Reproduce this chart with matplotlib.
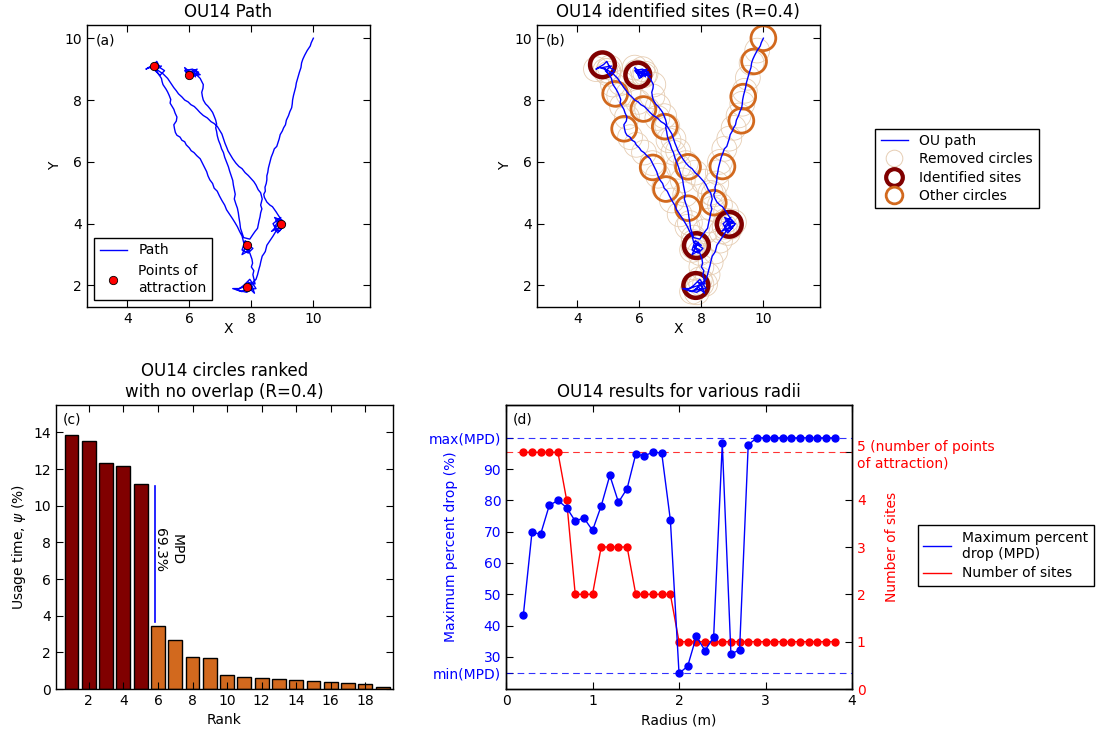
import matplotlib.pyplot as plt
import matplotlib.patches as patches
from matplotlib.lines import Line2D

# OU path, hand-traced waypoints (x, y)
ou_path = [
    (10.0, 10.0), (9.93, 9.85), (9.9, 9.75), (9.8, 9.6), (9.72, 9.45), (9.66, 9.32),
    (9.62, 9.2), (9.6, 9.05), (9.55, 8.9), (9.5, 8.72), (9.45, 8.55), (9.43, 8.42),
    (9.4, 8.3), (9.36, 8.15), (9.33, 8.0), (9.32, 7.88), (9.3, 7.75), (9.24, 7.62),
    (9.2, 7.5), (9.13, 7.35), (9.1, 7.2), (9.04, 7.1), (9.0, 7.0), (8.93, 6.88),
    (8.9, 6.75), (8.86, 6.62), (8.82, 6.5), (8.74, 6.42), (8.7, 6.3), (8.64, 6.15),
    (8.6, 6.0), (8.57, 5.9), (8.55, 5.8), (8.53, 5.66), (8.5, 5.55), (8.5, 5.42),
    (8.48, 5.3), (8.44, 5.18), (8.45, 5.05), (8.4, 4.95), (8.42, 4.85), (8.5, 4.7),
    (8.6, 4.6), (8.68, 4.55), (8.75, 4.45), (8.8, 4.38), (8.85, 4.3), (8.95, 4.15),
    (9.05, 4.05), (8.85, 3.95), (9.0, 3.85), (8.8, 4.1), (9.1, 4.0), (8.9, 3.75),
    (8.75, 3.9), (8.95, 4.2), (8.7, 4.0), (8.85, 3.7), (9.05, 3.95), (8.8, 3.8),
    (8.95, 3.9), (8.75, 4.2), (9.0, 4.1), (8.65, 3.75), (8.85, 3.85), (8.7, 3.6),
    (8.6, 3.45), (8.55, 3.38), (8.5, 3.3), (8.45, 3.1), (8.4, 3.02), (8.35, 2.95),
    (8.3, 2.75), (8.28, 2.65), (8.25, 2.55), (8.2, 2.35), (8.15, 2.2), (8.05, 2.1),
    (7.9, 2.0), (7.6, 1.9), (7.4, 1.9), (7.7, 1.8), (7.9, 1.95), (8.1, 1.75),
    (8.0, 2.05), (7.8, 1.85), (8.15, 1.9), (7.95, 2.2), (7.75, 2.0), (7.55, 1.85),
    (7.85, 1.78), (8.05, 1.9), (7.9, 2.1), (8.12, 2.05),
    (8.05, 2.35), (8.08, 2.48), (8.0, 2.6), (8.04, 2.72), (8.02, 2.85), (7.95, 3.05),
    (7.8, 3.2), (7.9, 3.4), (7.75, 3.25), (7.95, 3.15), (7.7, 3.0), (7.85, 3.35),
    (8.0, 3.3), (7.8, 3.45), (7.7, 3.15), (7.9, 3.05), (8.05, 3.2), (7.75, 3.4),
    (7.7, 3.6), (7.62, 3.75), (7.55, 3.9), (7.48, 4.02), (7.4, 4.15), (7.3, 4.3),
    (7.2, 4.45), (7.14, 4.6), (7.05, 4.75), (6.97, 4.9), (6.9, 5.05), (6.8, 5.15),
    (6.75, 5.3), (6.66, 5.42), (6.6, 5.55), (6.56, 5.68), (6.5, 5.8), (6.42, 5.96),
    (6.35, 6.1), (6.24, 6.2), (6.15, 6.3), (6.06, 6.36), (6.0, 6.45), (5.9, 6.55),
    (5.85, 6.65), (5.76, 6.7), (5.7, 6.8), (5.6, 6.86), (5.55, 6.95), (5.52, 7.08),
    (5.5, 7.2), (5.58, 7.32), (5.6, 7.45), (5.54, 7.58), (5.5, 7.7), (5.44, 7.8),
    (5.38, 7.9), (5.4, 8.02), (5.35, 8.15), (5.3, 8.26), (5.25, 8.35), (5.15, 8.5),
    (5.12, 8.6), (5.1, 8.7), (5.0, 8.85),
    (4.9, 9.0), (4.7, 9.05), (4.6, 9.0), (4.85, 9.15), (4.95, 9.25), (5.05, 9.05),
    (5.2, 8.95), (5.05, 8.8), (4.9, 8.95), (5.1, 9.1), (4.8, 9.05), (5.0, 8.95),
    (5.15, 8.85), (5.3, 8.7),
    (5.4, 8.55), (5.5, 8.4), (5.58, 8.3), (5.65, 8.2), (5.76, 8.1), (5.85, 8.0),
    (5.96, 7.94), (6.05, 7.85), (6.16, 7.79), (6.25, 7.7), (6.34, 7.6), (6.45, 7.5),
    (6.58, 7.42), (6.7, 7.3), (6.8, 7.24), (6.9, 7.15), (6.98, 7.02), (7.05, 6.9),
    (7.1, 6.75), (7.15, 6.6), (7.2, 6.48), (7.25, 6.35), (7.33, 6.22), (7.4, 6.1),
    (7.5, 5.96), (7.6, 5.85), (7.7, 5.78), (7.8, 5.65), (7.9, 5.56), (8.0, 5.45),
    (8.08, 5.36), (8.15, 5.25), (8.22, 5.1), (8.3, 5.0), (8.35, 4.8),
    (8.3, 4.6), (8.34, 4.48), (8.3, 4.35), (8.28, 4.22), (8.25, 4.1), (8.22, 3.96),
    (8.2, 3.85), (8.12, 3.75), (8.05, 3.65), (7.95, 3.5),
    (7.75, 3.55), (7.7, 3.7), (7.65, 3.85), (7.63, 4.02), (7.6, 4.2), (7.58, 4.35),
    (7.55, 4.5), (7.5, 4.64), (7.45, 4.8), (7.48, 4.95), (7.45, 5.1), (7.42, 5.25),
    (7.4, 5.4), (7.35, 5.55), (7.3, 5.7), (7.26, 5.84), (7.2, 6.0), (7.14, 6.15),
    (7.1, 6.3), (7.04, 6.42), (7.0, 6.55), (6.94, 6.7), (6.9, 6.85), (6.88, 6.98),
    (6.85, 7.1), (6.88, 7.22), (6.85, 7.35), (6.8, 7.48), (6.75, 7.6), (6.68, 7.7),
    (6.6, 7.8), (6.52, 7.88), (6.45, 8.0), (6.42, 8.12), (6.4, 8.25), (6.44, 8.38),
    (6.45, 8.5), (6.4, 8.6), (6.35, 8.7), (6.2, 8.85),
    (6.0, 8.8), (5.85, 8.95), (6.1, 9.0), (6.3, 8.9), (6.0, 8.7), (5.85, 9.05),
    (6.2, 8.75), (6.1, 8.9), (5.95, 8.85), (6.25, 9.0), (6.05, 8.75), (5.9, 8.9),
    (6.15, 8.95), (6.35, 8.82), (6.15, 8.8),
]

attract_x = [4.85, 6.0, 7.85, 8.95, 7.85]
attract_y = [9.1, 8.8, 3.3, 4.0, 1.95]

site_x = [4.81, 5.95, 8.90, 7.84, 7.82]
site_y = [9.14, 8.81, 3.98, 3.29, 2.00]
other_x = [10.0, 9.70, 9.35, 9.29, 5.22, 6.13, 6.82, 5.51, 6.43, 7.57, 8.68, 6.86, 7.57, 8.40]
other_y = [10.0, 9.25, 8.11, 7.33, 8.20, 7.71, 7.14, 7.07, 5.82, 5.84, 5.85, 5.12, 4.50, 4.68]
R = 0.4

ranks = list(range(1, 20))
usage = [13.86, 13.55, 12.31, 12.17, 11.2, 3.44, 2.70, 1.76, 1.72, 0.78,
         0.67, 0.62, 0.56, 0.49, 0.42, 0.38, 0.34, 0.29, 0.13]
n_identified = 5
mpd_pct = 69.3

radius = [0.2, 0.3, 0.4, 0.5, 0.6, 0.7, 0.8, 0.9, 1.0, 1.1, 1.2, 1.3, 1.4,
          1.5, 1.6, 1.7, 1.8, 1.9, 2.0, 2.1, 2.2, 2.3, 2.4, 2.5, 2.6, 2.7,
          2.8, 2.9, 3.0, 3.1, 3.2, 3.3, 3.4, 3.5, 3.6, 3.7, 3.8]
mpd = [43.3, 69.8, 69.2, 78.4, 80.0, 77.7, 73.4, 74.4, 70.4, 78.2, 88.0, 79.4, 83.8,
       94.8, 94.2, 95.5, 95.1, 73.7, 24.7, 27.0, 36.5, 32.0, 36.2, 98.2, 30.9, 32.2,
       97.8, 100.0, 100.0, 100.0, 100.0, 100.0, 100.0, 100.0, 100.0, 100.0, 100.0]
n_sites = [5, 5, 5, 5, 5, 4, 2, 2, 2, 3, 3, 3, 3, 2, 2, 2, 2, 2, 1, 1, 1, 1, 1,
           1, 1, 1, 1, 1, 1, 1, 1, 1, 1, 1, 1, 1, 1]
n_attraction = 5

DARKRED = "#800000"
ORANGE = "#D2691E"
TAN = "#E6CDB3"

plt.rcParams["font.size"] = 10
plt.rcParams["xtick.direction"] = "in"
plt.rcParams["ytick.direction"] = "in"
plt.rcParams["xtick.top"] = True
plt.rcParams["ytick.right"] = True
plt.rcParams["xtick.major.size"] = 5
plt.rcParams["ytick.major.size"] = 5
plt.rcParams["legend.fancybox"] = False
plt.rcParams["legend.edgecolor"] = "black"
plt.rcParams["legend.framealpha"] = 1.0
plt.rcParams["axes.linewidth"] = 1.0

fig = plt.figure(figsize=(10.96, 7.33), dpi=100)
px, py = zip(*ou_path)


def setup_map(ax, label):
    ax.set_xlim(2.7, 11.82)
    ax.set_ylim(1.3, 10.43)
    ax.set_xticks([4, 6, 8, 10])
    ax.set_yticks([2, 4, 6, 8, 10])
    ax.set_xlabel("X", labelpad=-3)
    ax.set_ylabel("Y", labelpad=2)
    ax.text(0.03, 0.97, label, transform=ax.transAxes, ha="left", va="top")


# (a) path
ax_a = fig.add_axes([0.0794, 0.581, 0.258, 0.385])
ax_a.plot(px, py, color="b", lw=1.0, label="Path")
ax_a.plot(attract_x, attract_y, "o", color="r", mec="k", mew=0.6, ms=6,
          label="Points of\nattraction")
setup_map(ax_a, "(a)")
ax_a.set_title("OU14 Path", fontsize=12)
ax_a.legend(loc="lower left", numpoints=1, fontsize=10, borderpad=0.4)

# (b) identified sites
ax_b = fig.add_axes([0.490, 0.581, 0.258, 0.385])
for x, y in ou_path[::3]:
    ax_b.add_patch(patches.Circle((x, y), R, fill=False, ec=TAN, lw=0.6, zorder=1))
for x, y in zip(other_x, other_y):
    ax_b.add_patch(patches.Circle((x, y), R, fill=False, ec=ORANGE, lw=2.0, zorder=2))
for x, y in zip(site_x, site_y):
    ax_b.add_patch(patches.Circle((x, y), R, fill=False, ec=DARKRED, lw=3.2, zorder=2))
ax_b.plot(px, py, color="b", lw=1.0, zorder=3)
setup_map(ax_b, "(b)")
ax_b.set_title("OU14 identified sites (R=0.4)", fontsize=12)

handles_b = [
    Line2D([], [], color="b", lw=1, label="OU path"),
    Line2D([], [], ls="none", marker="o", ms=12, mfc="none", mec=TAN, mew=0.7,
           label="Removed circles"),
    Line2D([], [], ls="none", marker="o", ms=12, mfc="none", mec=DARKRED, mew=3,
           label="Identified sites"),
    Line2D([], [], ls="none", marker="o", ms=12, mfc="none", mec=ORANGE, mew=2,
           label="Other circles"),
]
fig.legend(handles=handles_b, loc="upper left", bbox_to_anchor=(0.792, 0.834),
           fontsize=10, borderpad=0.4, labelspacing=0.3)

# (c) ranked circles
ax_c = fig.add_axes([0.0511, 0.060, 0.3075, 0.3875])
bar_colors = [DARKRED] * n_identified + [ORANGE] * (len(ranks) - n_identified)
ax_c.bar(ranks, usage, width=0.8, color=bar_colors, edgecolor="k", lw=1)
ax_c.plot([5.85, 5.85], [usage[5] + 0.2, usage[4] - 0.1], color="b", lw=1.2)
ax_c.text(6.6, 7.6, "MPD\n%.1f%%" % mpd_pct, rotation=-90, ha="center",
          va="center", fontsize=10)
ax_c.set_xlim(0.1, 19.6)
ax_c.set_ylim(0, 15.5)
ax_c.set_xticks(range(2, 20, 2))
ax_c.set_yticks(range(0, 15, 2))
ax_c.set_xlabel("Rank")
ax_c.set_ylabel(r"Usage time, $\psi$ (%)")
ax_c.text(0.02, 0.975, "(c)", transform=ax_c.transAxes, ha="left", va="top")
ax_c.set_title("OU14 circles ranked\nwith no overlap (R=0.4)", fontsize=12)

# (d) various radii
ax_d = fig.add_axes([0.4617, 0.060, 0.3157, 0.3875])
ax_d2 = ax_d.twinx()
mpd_min, mpd_max = min(mpd), max(mpd)
ax_d.axhline(mpd_max, color="b", ls="--", lw=0.8, dashes=(6, 4), alpha=0.8)
ax_d.axhline(mpd_min, color="b", ls="--", lw=0.8, dashes=(6, 4), alpha=0.8)
ax_d.plot(radius, mpd, "o-", color="b", ms=5, lw=1, mec="b", zorder=3)
ax_d2.axhline(n_attraction, color="r", ls="--", lw=0.8, dashes=(6, 4), alpha=0.8)
ax_d2.plot(radius, n_sites, "o-", color="r", ms=5, lw=1, mec="r")
ax_d.set_zorder(ax_d2.get_zorder() + 1)
ax_d.patch.set_visible(False)
ax_d.set_xlim(0, 4)
ax_d.set_ylim(mpd_min - 5, mpd_max + 10.5)
ax_d2.set_ylim(0, 6)
ax_d.set_xticks([0, 1, 2, 3, 4])
ax_d.set_yticks([mpd_min, 30, 40, 50, 60, 70, 80, 90, mpd_max])
ax_d.set_yticklabels(["min(MPD)", "30", "40", "50", "60", "70", "80", "90", "max(MPD)"])
ax_d.tick_params(axis="y", labelcolor="b", right=False)
ax_d2.set_yticks([0, 1, 2, 3, 4, 5])
ax_d2.set_yticklabels(["0", "1", "2", "3", "4", "5 (number of points\nof attraction)"],
                      ha="left")
ax_d2.tick_params(axis="y", labelcolor="r", direction="in")
ax_d.set_xlabel("Radius (m)")
ax_d.set_ylabel("Maximum percent drop (%)", color="b")
ax_d.yaxis.set_label_coords(-0.14, 0.5)
ax_d2.set_ylabel("Number of sites", color="r")
ax_d2.yaxis.set_label_coords(1.095, 0.5)
ax_d.text(0.02, 0.975, "(d)", transform=ax_d.transAxes, ha="left", va="top")
ax_d.set_title("OU14 results for various radii", fontsize=12)

handles_d = [
    Line2D([], [], color="b", lw=1, label="Maximum percent\ndrop (MPD)"),
    Line2D([], [], color="r", lw=1, label="Number of sites"),
]
fig.legend(handles=handles_d, loc="upper left", bbox_to_anchor=(0.831, 0.293),
           fontsize=10, borderpad=0.4, labelspacing=0.4)

fig.savefig("out.png", dpi=100)
